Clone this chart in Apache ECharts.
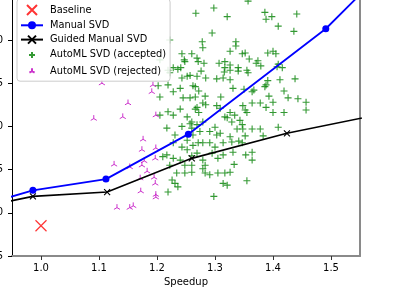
<!DOCTYPE html>
<html><head><meta charset="utf-8">
<script src="https://cdn.jsdelivr.net/npm/echarts@6/dist/echarts.min.js"></script>
<style>html,body{margin:0;padding:0;background:#fff;overflow:hidden}#c{width:395px;height:293px}</style>
</head><body><div id="c"></div>
<script>
const xTicks = [1.0, 1.1, 1.2, 1.3, 1.4, 1.5];
const seriesNames = ['Baseline', 'Manual SVD', 'Guided Manual SVD', 'AutoML SVD (accepted)', 'AutoML SVD (rejected)'];
const baseline = [[1.0, 73.85]];
const manualSvd = [[0.9, 74.09], [0.986, 74.26], [1.112, 74.39], [1.254, 74.91], [1.491, 76.13], [1.6, 76.86]];
const guidedSvd = [[0.9, 74.07], [0.986, 74.19], [1.114, 74.24], [1.260, 74.63], [1.424, 74.92], [1.6, 75.16]];
const automlAccepted = [
[1.357,76.45],[1.267,76.31],[1.298,76.37],[1.321,76.27],[1.386,76.32],[1.388,76.24],[1.398,76.27],[1.441,76.30],
[1.409,76.16],[1.436,76.10],[1.295,76.08],[1.222,76.00],[1.278,75.98],[1.279,75.91],[1.336,75.98],[1.336,75.93],
[1.326,75.87],[1.347,75.84],[1.352,75.85],[1.391,75.85],[1.400,75.87],[1.405,75.84],[1.243,75.84],[1.260,75.84],
[1.205,75.77],[1.247,75.77],[1.248,75.75],[1.269,75.79],[1.271,75.75],[1.281,75.73],[1.307,75.73],[1.317,75.75],
[1.326,75.71],[1.359,75.78],[1.374,75.76],[1.371,75.73],[1.379,75.70],[1.409,75.72],[1.416,75.68],[1.407,75.69],
[1.317,75.68],[1.316,75.63],[1.326,75.65],[1.340,75.68],[1.340,75.64],[1.355,75.65],[1.357,75.62],[1.241,75.68],
[1.219,75.65],[1.228,75.68],[1.236,75.66],[1.222,75.62],[1.276,75.64],[1.252,75.58],[1.257,75.59],[1.269,75.58],
[1.284,75.56],[1.303,75.55],[1.314,75.56],[1.326,75.54],[1.243,75.56],[1.391,75.53],[1.412,75.54],[1.438,75.55],
[1.202,75.47],[1.219,75.48],[1.240,75.44],[1.262,75.47],[1.266,75.46],[1.272,75.41],[1.283,75.35],[1.266,75.34],
[1.310,75.34],[1.331,75.44],[1.350,75.43],[1.364,75.40],[1.367,75.42],[1.386,75.46],[1.388,75.48],[1.419,75.41],
[1.393,75.35],[1.426,75.33],[1.443,75.32],[1.457,75.28],[1.457,75.19],[1.279,75.27],[1.284,75.25],[1.269,75.22],
[1.272,75.16],[1.303,75.24],[1.309,75.21],[1.317,75.11],[1.326,75.16],[1.334,75.13],[1.348,75.24],[1.352,75.19],
[1.355,75.16],[1.364,75.27],[1.378,75.27],[1.388,75.22],[1.400,75.28],[1.400,75.16],[1.419,75.16],[1.409,74.99],
[1.205,75.34],[1.228,75.40],[1.245,75.33],[1.257,75.33],[1.219,75.17],[1.205,75.13],[1.228,75.13],[1.240,75.20],
[1.252,75.11],[1.266,75.20],[1.217,74.98],[1.243,75.00],[1.257,75.03],[1.260,74.98],[1.231,74.90],[1.252,74.84],
[1.262,74.90],[1.271,74.81],[1.243,74.76],[1.228,74.81],[1.260,75.05],[1.269,75.02],[1.279,75.05],[1.274,74.94],
[1.291,74.94],[1.300,74.99],[1.303,74.90],[1.309,74.92],[1.321,75.10],[1.329,75.05],[1.343,75.07],[1.347,75.02],
[1.338,74.97],[1.348,74.97],[1.364,74.97],[1.378,74.97],[1.383,74.89],[1.352,74.89],[1.326,74.88],[1.329,74.82],
[1.279,74.81],[1.291,74.81],[1.314,74.81],[1.347,74.81],[1.262,74.78],[1.210,74.65],[1.217,74.67],[1.222,74.55],
[1.228,74.63],[1.240,74.61],[1.248,74.55],[1.260,74.47],[1.252,74.73],[1.269,74.69],[1.300,74.76],[1.331,74.70],
[1.341,74.83],[1.353,74.67],[1.364,74.70],[1.364,74.61],[1.260,74.66],[1.279,74.61],[1.283,74.55],[1.295,74.69],
[1.305,74.63],[1.314,74.67],[1.333,74.56],[1.260,74.55],[1.279,74.51],[1.283,74.46],[1.291,74.44],[1.305,74.46],
[1.317,74.46],[1.326,74.47],[1.314,74.34],[1.321,74.32],[1.355,74.37],[1.298,74.19],[1.219,74.24],[1.226,74.38],
[1.231,74.34],[1.234,74.46],[1.248,74.46],[1.236,74.30]
];
const automlRejected = [
[1.105,75.50],[1.193,75.48],[1.191,75.40],[1.150,75.27],[1.091,75.09],[1.141,75.11],[1.198,75.13],[1.176,74.85],
[1.174,74.73],[1.197,74.63],[1.198,74.75],[1.126,74.56],[1.153,74.53],[1.174,74.55],[1.178,74.60],[1.183,74.48],
[1.195,74.41],[1.171,74.40],[1.172,74.25],[1.197,74.34],[1.198,74.21],[1.198,74.18],[1.131,74.06],[1.153,74.06],
[1.159,74.08]
];

const FONT = 'DejaVu Sans';
const symX = 'path://M0,0L10,10M10,0L0,10';
const symPlus = 'path://M0,5L10,5M5,0L5,10';
const symTri = 'path://M5,5L5,0M5,5L0.67,7.5M5,5L9.33,7.5M0,10L0,10M10,10L10,10M0,0L0,0';
const legPlus = 'path://M2,5L8,5M5,2L5,8M0,0L0,0M10,10L10,10';
const legTri = 'path://M5,5L5,2M5,5L2.4,6.5M5,5L7.6,6.5M0,0L0,0M10,10L10,10';

const chart = echarts.init(document.getElementById('c'), null, {renderer: 'canvas'});
chart.setOption({
  animation: false,
  backgroundColor: '#fff',
  textStyle: {fontFamily: FONT},
  grid: {left: 12, right: 35, top: -1.5, bottom: 37, containLabel: false, outerBoundsMode: 'none'},
  legend: {
    orient: 'vertical', left: 17, top: -1,
    itemWidth: 22, itemHeight: 10, itemGap: 4.3,
    padding: [5, 4, 4, 3],
    backgroundColor: 'rgba(255,255,255,0.85)', borderColor: '#cccccc', borderWidth: 1, borderRadius: 3,
    textStyle: {fontFamily: FONT, fontSize: 9.8, color: '#000', lineHeight: 10, height: 10, padding: [0, 0, 0, 2]},
    data: [
      {name: seriesNames[0]},
      {name: seriesNames[1]},
      {name: seriesNames[2]},
      {name: seriesNames[3], icon: legPlus},
      {name: seriesNames[4], icon: legTri}
    ]
  },
  xAxis: {
    type: 'value', min: 0.95, max: 1.55,
    name: 'Speedup', nameLocation: 'middle', nameGap: 19,
    nameTextStyle: {fontFamily: FONT, fontSize: 10, color: '#000'},
    axisLine: {lineStyle: {color: '#8a8a8a', width: 2}},
    axisTick: {show: true, customValues: xTicks, length: 4, lineStyle: {color: '#333'}},
    axisLabel: {customValues: xTicks, formatter: v => v.toFixed(1), fontFamily: FONT, fontSize: 10, color: '#000', margin: 7},
    splitLine: {show: false}
  },
  yAxis: [{
    type: 'value', min: 73.5, max: 76.48, interval: 0.5,
    axisLine: {show: true, lineStyle: {color: '#000', width: 1}},
    axisTick: {show: true, length: 4, lineStyle: {color: '#000'}},
    axisLabel: {formatter: v => v.toFixed(1), fontFamily: FONT, fontSize: 10, color: '#000', margin: 9, showMaxLabel: false, hideOverlap: false},
    splitLine: {show: false}
  }, {
    type: 'value', min: 73.5, max: 76.48, position: 'right',
    axisLine: {show: true, lineStyle: {color: '#8a8a8a', width: 2}},
    axisTick: {show: false}, axisLabel: {show: false}, splitLine: {show: false}
  }],
  series: [
    {
      name: seriesNames[0], type: 'scatter', data: baseline,
      symbol: symX, symbolSize: 11,
      itemStyle: {color: 'transparent', borderColor: '#ff0000', borderWidth: 1.2}
    },
    {
      name: seriesNames[1], type: 'line', data: manualSvd,
      symbol: 'circle', symbolSize: 7, showAllSymbol: true,
      lineStyle: {color: '#0000ff', width: 1.8},
      itemStyle: {color: '#0000ff'}
    },
    {
      name: seriesNames[2], type: 'line', data: guidedSvd,
      symbol: symX, symbolSize: 6, showAllSymbol: true,
      lineStyle: {color: '#000000', width: 1.6},
      itemStyle: {color: 'transparent', borderColor: '#000', borderWidth: 1.1}
    },
    {
      name: seriesNames[3], type: 'scatter', data: automlAccepted,
      symbol: symPlus, symbolSize: 7,
      itemStyle: {color: 'transparent', borderColor: '#008000', borderWidth: 1.1}
    },
    {
      name: seriesNames[4], type: 'scatter', data: automlRejected,
      symbol: symTri, symbolSize: 7,
      itemStyle: {color: 'transparent', borderColor: '#bf00bf', borderWidth: 1}
    }
  ]
});
</script>
</body></html>
